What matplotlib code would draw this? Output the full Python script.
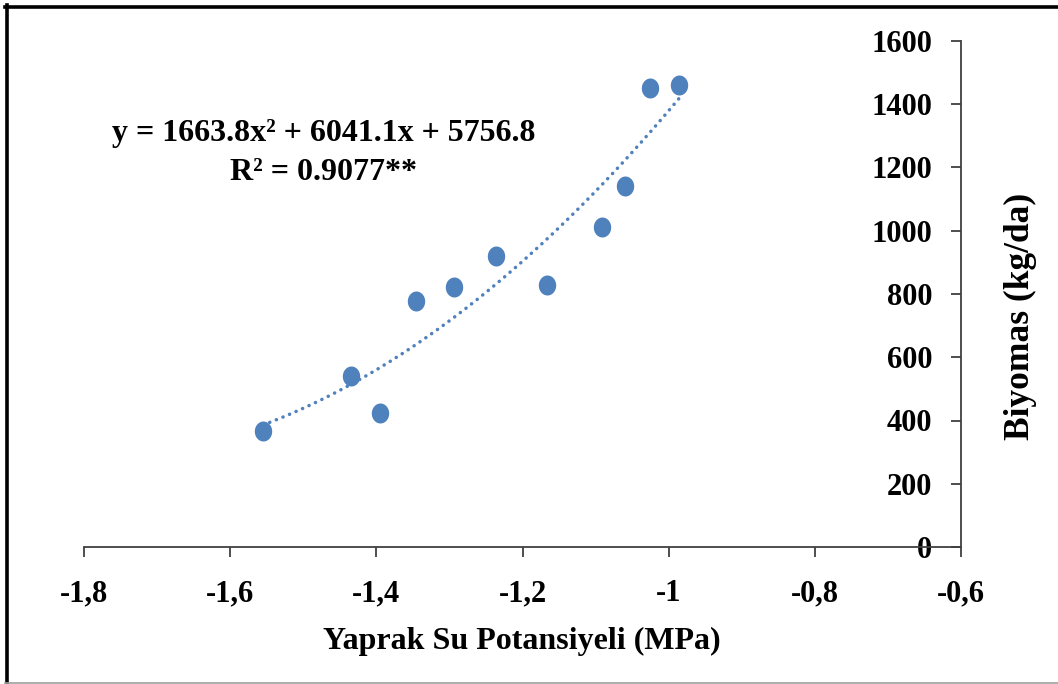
import numpy as np
import matplotlib
matplotlib.use("Agg")
import matplotlib.pyplot as plt
from matplotlib.path import Path
from matplotlib.lines import Line2D

# Leaf water potential (MPa) and biomass (kg/da)
water_potential = [-1.555, -1.435, -1.395, -1.346, -1.294, -1.236,
                   -1.166, -1.091, -1.060, -1.026, -0.986]
biomass = [367, 541, 424, 778, 822, 920, 828, 1012, 1141, 1451, 1461]

# Quadratic trendline: y = a*x^2 + b*x + c
trend_coef = [1663.8, 6041.1, 5756.8]
trend_label = "y = 1663.8x\u00b2 + 6041.1x + 5756.8\nR\u00b2 = 0.9077**"

x_ticks = [-1.8, -1.6, -1.4, -1.2, -1.0, -0.8, -0.6]
x_tick_labels = ["-1,8", "-1,6", "-1,4", "-1,2", "-1", "-0,8", "-0,6"]
y_ticks = [0, 200, 400, 600, 800, 1000, 1200, 1400, 1600]

blue = "#4F81BD"
axis_col = "#404040"
font = "Liberation Serif"
fs_tick = 22
fs_title = 23

W, H = 1058, 684
fig = plt.figure(figsize=(W / 100, H / 100), dpi=100)
ax = fig.add_axes([84 / W, 1 - 547 / H, 877 / W, 506 / H])

ax.set_xlim(-1.8, -0.6)
ax.set_ylim(0, 1600)

# vertical axis crosses at x = -0.6
for s in ("top", "right"):
    ax.spines[s].set_visible(False)
ax.spines["left"].set_position(("data", -0.6))
ax.spines["left"].set_bounds(0, 1600)
for s in ("left", "bottom"):
    ax.spines[s].set_color(axis_col)
    ax.spines[s].set_linewidth(1.3)

ax.set_xticks(x_ticks)
ax.set_xticklabels(x_tick_labels)
ax.set_yticks(y_ticks)
ax.set_yticklabels([str(v) for v in y_ticks])
ax.tick_params(axis="both", direction="out", length=7.2, width=1.3,
               color=axis_col, labelsize=fs_tick)
ax.tick_params(axis="y", pad=13.5)
ax.tick_params(axis="x", pad=16)
for lab in ax.get_xticklabels() + ax.get_yticklabels():
    lab.set_fontfamily(font)
    lab.set_fontweight("bold")

# ellipse marker, slightly taller than wide
t = np.linspace(0, 2 * np.pi, 60)
ell = Path(np.column_stack([np.cos(t), 1.15 * np.sin(t)]), closed=True)

ax.plot(water_potential, biomass, linestyle="none", marker=ell,
        markersize=14.4, color=blue, markeredgewidth=0, zorder=3)

# trendline over the data range
xs = np.linspace(min(water_potential), max(water_potential), 200)
ys = np.polyval(trend_coef, xs)
ax.plot(xs, ys, color=blue, linewidth=2.5, linestyle=(0, (0.05, 2.0)),
        dash_capstyle="round", zorder=2)

ax.text((324 - 84) / 877, (547 - 153) / 506, trend_label,
        transform=ax.transAxes, ha="center", va="center",
        fontfamily=font, fontweight="bold", fontsize=fs_title,
        linespacing=1.45)

ax.set_xlabel("Yaprak Su Potansiyeli (MPa)", fontfamily=font,
              fontweight="bold", fontsize=fs_title)
ax.xaxis.set_label_coords((522 - 84) / 877, (547 - 641) / 506)
ax.xaxis.label.set_va("center")

ax.set_ylabel("Biyomas (kg/da)", fontfamily=font, fontweight="bold",
              fontsize=25.5, rotation=90)
ax.yaxis.set_label_coords((1020 - 84) / 877, (547 - 316) / 506)
ax.yaxis.label.set_va("center")
ax.yaxis.label.set_ha("center")

# outer frame
fig.add_artist(Line2D([6.5 / W, 6.5 / W], [0, 1 - 5 / H], color="black",
                      linewidth=2.6, transform=fig.transFigure))
fig.add_artist(Line2D([5 / W, 1], [1 - 6.5 / H, 1 - 6.5 / H], color="black",
                      linewidth=2.6, transform=fig.transFigure))
fig.add_artist(Line2D([5 / W, 1], [1 - 682.5 / H, 1 - 682.5 / H],
                      color="#a0a0a0", linewidth=1.2,
                      transform=fig.transFigure))

fig.savefig("out.png", dpi=100)
